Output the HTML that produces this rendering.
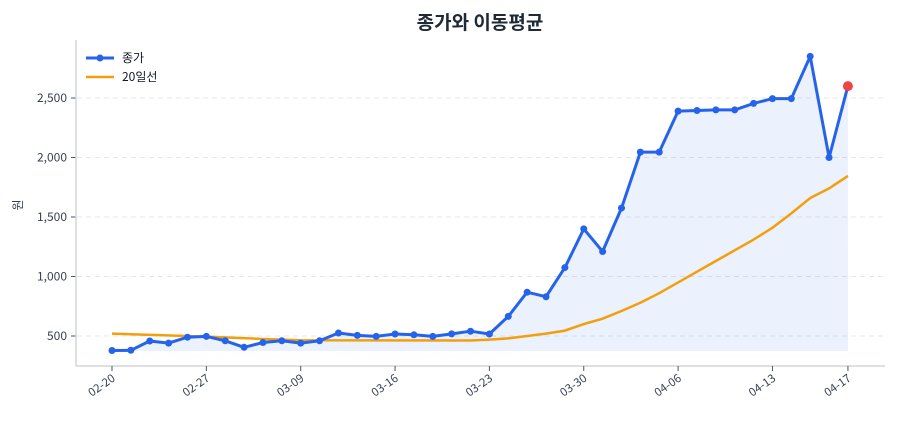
<!DOCTYPE html>
<html><head><meta charset="utf-8"><style>
body{margin:0;background:#fff;font-family:"Noto Sans CJK KR","Liberation Sans",sans-serif;}
svg text{font-family:"Noto Sans CJK KR","Liberation Sans",sans-serif;}
</style></head><body>
<svg id="s" width="900" height="420" xmlns="http://www.w3.org/2000/svg"></svg>
<script>
const s=document.getElementById('s');
const px=[378,380,458,440,490,497,460,405,445,460,440,460,525,505,497,517,510,497,518,540,517,665,868,830,1075,1400,1210,1575,2045,2045,2390,2395,2400,2400,2455,2495,2495,2850,2000,2600];
const maK=[[0,520],[5,495],[8,475],[10,465],[19,462],[20,470],[21,480],[22,500],[23,520],[24,545],[25,600],[26,645],[27,710],[28,780],[29,860],[30,950],[31,1040],[32,1130],[33,1220],[34,1310],[35,1410],[36,1530],[37,1660],[38,1740],[39,1845]];
const X=i=>112+i*18.87, Y=v=>336-(v-500)*0.119;
let h='';
h+='<text x="480" y="29" text-anchor="middle" font-size="19" font-weight="bold" fill="#1f2937">종가와 이동평균</text>';
[500,1000,1500,2000,2500].forEach(v=>{const y=Y(v);
h+=`<line x1="77" x2="885" y1="${y}" y2="${y}" stroke="#e5e7eb" stroke-dasharray="5,4"/>`;
h+=`<line x1="71" x2="76" y1="${y}" y2="${y}" stroke="#4b5563"/>`;
h+=`<text x="67" y="${y+4}" text-anchor="end" font-size="12" fill="#374151">${v.toLocaleString('en-US')}</text>`;});
h+='<line x1="76" x2="76" y1="40" y2="366" stroke="#d1d5db" stroke-width="1.5"/>';
h+='<line x1="76" x2="885" y1="366" y2="366" stroke="#d1d5db" stroke-width="1.5"/>';
h+='<text x="22" y="205" text-anchor="middle" font-size="12" fill="#374151" transform="rotate(-90 22 205)">원</text>';
const lab=['02-20','02-27','03-09','03-16','03-23','03-30','04-06','04-13','04-17'],idx=[0,5,10,15,20,25,30,35,39];
idx.forEach((i,k)=>{const x=X(i);h+=`<line x1="${x}" x2="${x}" y1="366" y2="371" stroke="#4b5563"/>`;
h+=`<text x="${x+4}" y="380" text-anchor="end" font-size="11.5" fill="#374151" transform="rotate(-35 ${x+4} 380)">${lab[k]}</text>`;});
let pts=px.map((v,i)=>`${X(i).toFixed(1)},${Y(v).toFixed(1)}`).join(' ');
h+=`<polygon points="${X(0)},351 ${pts} ${X(39)},351" fill="#2563eb" fill-opacity="0.09"/>`;
let mp=maK.map(([i,v])=>`${X(i).toFixed(1)},${Y(v).toFixed(1)}`).join(' ');
h+=`<polyline points="${mp}" fill="none" stroke="#f59e0b" stroke-width="2.5"/>`;
h+=`<polyline points="${pts}" fill="none" stroke="#2563eb" stroke-width="3" stroke-linejoin="round"/>`;
px.forEach((v,i)=>{if(i<39)h+=`<circle cx="${X(i)}" cy="${Y(v)}" r="3.5" fill="#2563eb"/>`;});
h+=`<circle cx="${X(39)}" cy="${Y(2600)}" r="5" fill="#ef4444"/>`;
h+='<line x1="86" x2="114" y1="58" y2="58" stroke="#2563eb" stroke-width="3"/><circle cx="100" cy="58" r="3.5" fill="#2563eb"/>';
h+='<text x="122" y="62" font-size="12" fill="#111827">종가</text>';
h+='<line x1="86" x2="114" y1="77" y2="77" stroke="#f59e0b" stroke-width="2.5"/>';
h+='<text x="122" y="81" font-size="12" fill="#111827">20일선</text>';
s.innerHTML=h;
</script>
</body></html>
